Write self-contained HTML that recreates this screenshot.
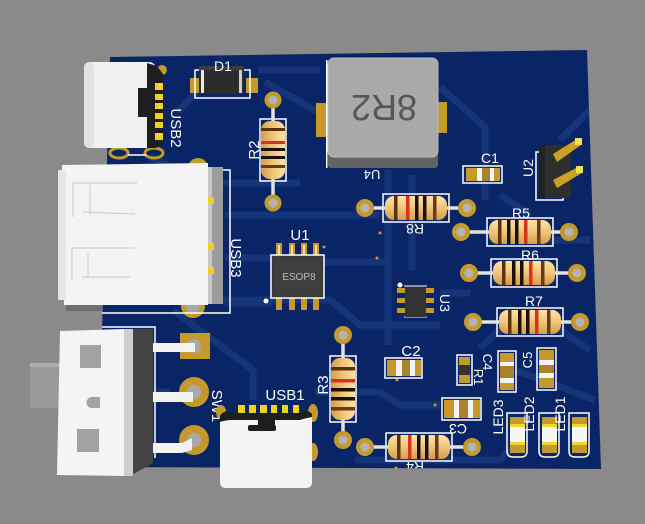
<!DOCTYPE html>
<html><head><meta charset="utf-8">
<style>
html,body{margin:0;padding:0;background:#8a8a8a;}
svg{display:block;}
text{font-family:"Liberation Sans",sans-serif;fill:#fff;}
</style></head>
<body>
<svg width="645" height="524" viewBox="0 0 645 524" xmlns="http://www.w3.org/2000/svg">
<defs>
<linearGradient id="rb" x1="0" y1="0" x2="0" y2="1">
<stop offset="0" stop-color="#fbe3a8"/><stop offset="0.45" stop-color="#f3c87c"/><stop offset="1" stop-color="#d59d4e"/>
</linearGradient>
<clipPath id="bc"><polygon points="110,57 587,50 601,469 98,467"/></clipPath>
</defs>
<rect width="645" height="524" fill="#8a8a8a"/>
<!-- board -->
<polygon points="110,57 587,50 601,469 98,467" fill="#0a2566"/>
<!-- traces -->
<g stroke="#15347a" stroke-width="7" fill="none" stroke-linejoin="round" clip-path="url(#bc)">
<polyline points="178,112 205,82"/>
<polyline points="258,70 320,70"/>
<polyline points="265,82 318,112"/>
<polyline points="440,87 485,127 485,200"/>
<polyline points="150,157 205,183 300,183"/>
<polyline points="225,215 380,215"/>
<polyline points="225,258 272,258"/>
<polyline points="225,303 272,303"/>
<polyline points="388,170 388,345"/>
<polyline points="412,175 412,270"/>
<polyline points="323,262 388,262"/>
<polyline points="173,310 253,370 253,400"/>
<polyline points="210,300 330,300 360,325 440,325"/>
<polyline points="440,293 470,293"/>
<polyline points="315,392 380,392 400,405 440,405"/>
<polyline points="515,370 595,400"/>
<polyline points="480,348 500,330 560,330 590,350"/>
<polyline points="355,460 500,460 520,440"/>
<polyline points="150,392 170,392"/>
<polyline points="510,240 590,240"/>
<polyline points="500,195 530,215"/>
<polyline points="590,110 560,140"/>
</g>
<!-- D1 -->
<rect x="190" y="78" width="12" height="15" fill="#c49a2c"/>
<rect x="246" y="78" width="12" height="15" fill="#c49a2c"/>
<rect x="195" y="70" width="55" height="28" fill="none" stroke="#fff" stroke-width="1.5"/>
<rect x="199" y="66" width="45" height="28" fill="#2c2c2c"/>
<rect x="199" y="66" width="45" height="4" fill="#3d3d3d"/>
<rect x="201" y="70" width="3" height="23" fill="#e8e8e8"/>
<rect x="239" y="70" width="3" height="23" fill="#cfcfcf"/>
<text x="223" y="71" font-size="14" text-anchor="middle">D1</text>
<!-- U4 inductor -->
<rect x="316" y="103" width="14" height="34" fill="#c49a2c"/>
<rect x="436" y="102" width="11" height="31" fill="#c49a2c"/>
<rect x="326" y="60" width="1.5" height="108" fill="#fff"/>
<rect x="328" y="152" width="110" height="16" rx="3" fill="#636363"/>
<rect x="328" y="58" width="110" height="99" rx="6" fill="#a9a9a9"/>
<rect x="328" y="58" width="110" height="99" rx="6" fill="none" stroke="#bdbdbd" stroke-width="1"/>
<text x="0" y="0" font-size="36" fill="#565656" text-anchor="middle" transform="translate(384,95) rotate(180)" style="fill:#565656">8R2</text>
<text x="0" y="0" font-size="13" text-anchor="middle" transform="translate(372,170) rotate(180)">U4</text>
<!-- C1 -->
<rect x="463" y="166" width="39" height="17" fill="none" stroke="#fff" stroke-width="1.5"/>
<rect x="466" y="168" width="11" height="13" fill="#c49a2c"/>
<rect x="477" y="168" width="5" height="13" fill="#f4f4f4"/>
<rect x="482" y="168" width="8" height="13" fill="#a8822f"/>
<rect x="490" y="168" width="4" height="13" fill="#f4f4f4"/>
<rect x="494" y="168" width="6" height="13" fill="#c49a2c"/>
<text x="490" y="163" font-size="14" text-anchor="middle">C1</text>
<!-- U2 header -->
<rect x="536" y="152" width="27" height="48" fill="none" stroke="#fff" stroke-width="1.5"/>
<rect x="539" y="145" width="32" height="53" fill="#2e2e2e"/>
<rect x="539" y="145" width="6" height="53" fill="#222"/>
<polygon points="553,154 577,139 581,145 557,162" fill="#c9a227"/>
<polygon points="553,180 578,167 582,173 557,188" fill="#c9a227"/>
<rect x="575" y="138" width="7" height="7" fill="#f2e14a"/>
<rect x="576" y="166" width="7" height="7" fill="#f2e14a"/>
<text x="0" y="0" font-size="14" text-anchor="middle" transform="translate(533,168) rotate(-90)">U2</text>

<!-- R8 -->
<g transform="translate(416,208)">
<rect x="-33" y="-14" width="66" height="28" fill="none" stroke="#fff" stroke-width="1.5"/>
<line x1="-51" y1="0" x2="51" y2="0" stroke="#e4e4e4" stroke-width="3.5"/>
<circle cx="-51" cy="0" r="9" fill="#c49a2c"/><circle cx="-51" cy="0" r="4.5" fill="#b3b3b3"/>
<circle cx="51" cy="0" r="9" fill="#c49a2c"/><circle cx="51" cy="0" r="4.5" fill="#b3b3b3"/>
<rect x="-31" y="-12" width="62" height="24" rx="9" fill="url(#rb)"/>
<rect x="-22" y="-12" width="3.5" height="24" fill="#5a3212"/>
<rect x="-10" y="-12" width="3.5" height="24" fill="#d8321c"/>
<rect x="-1" y="-12" width="3.5" height="24" fill="#1a1008"/>
<rect x="7" y="-12" width="3.5" height="24" fill="#1a1008"/>
<rect x="17" y="-12" width="3.5" height="24" fill="#6a3a14"/>
</g>
<text x="0" y="0" font-size="14" text-anchor="middle" transform="translate(415,224) rotate(180)">R8</text>
<!-- R5 -->
<g transform="translate(520,232)">
<rect x="-33" y="-14" width="66" height="28" fill="none" stroke="#fff" stroke-width="1.5"/>
<line x1="-54" y1="0" x2="49" y2="0" stroke="#e4e4e4" stroke-width="3.5"/>
<circle cx="-59" cy="0" r="9" fill="#c49a2c"/><circle cx="-59" cy="0" r="4.5" fill="#b3b3b3"/>
<circle cx="49" cy="0" r="9" fill="#c49a2c"/><circle cx="49" cy="0" r="4.5" fill="#b3b3b3"/>
<rect x="-31" y="-12" width="62" height="24" rx="9" fill="url(#rb)"/>
<rect x="-22" y="-12" width="3.5" height="24" fill="#5a3212"/>
<rect x="-13" y="-12" width="3.5" height="24" fill="#1a1008"/>
<rect x="-5" y="-12" width="3.5" height="24" fill="#1a1008"/>
<rect x="4" y="-12" width="3.5" height="24" fill="#d8321c"/>
<rect x="17" y="-12" width="3.5" height="24" fill="#6a3a14"/>
</g>
<text x="521" y="218" font-size="14" text-anchor="middle">R5</text>
<!-- R6 -->
<g transform="translate(524,273)">
<rect x="-33" y="-14" width="66" height="28" fill="none" stroke="#fff" stroke-width="1.5"/>
<line x1="-55" y1="0" x2="53" y2="0" stroke="#e4e4e4" stroke-width="3.5"/>
<circle cx="-55" cy="0" r="9" fill="#c49a2c"/><circle cx="-55" cy="0" r="4.5" fill="#b3b3b3"/>
<circle cx="53" cy="0" r="9" fill="#c49a2c"/><circle cx="53" cy="0" r="4.5" fill="#b3b3b3"/>
<rect x="-31" y="-12" width="62" height="24" rx="9" fill="url(#rb)"/>
<rect x="-22" y="-12" width="3.5" height="24" fill="#5a3212"/>
<rect x="-12" y="-12" width="3.5" height="24" fill="#1a1008"/>
<rect x="-4" y="-12" width="3.5" height="24" fill="#1a1008"/>
<rect x="5" y="-12" width="3.5" height="24" fill="#d8321c"/>
<rect x="17" y="-12" width="3.5" height="24" fill="#6a3a14"/>
</g>
<text x="530" y="260" font-size="14" text-anchor="middle">R6</text>
<!-- R7 -->
<g transform="translate(530,322)">
<rect x="-33" y="-14" width="66" height="28" fill="none" stroke="#fff" stroke-width="1.5"/>
<line x1="-57" y1="0" x2="50" y2="0" stroke="#e4e4e4" stroke-width="3.5"/>
<circle cx="-57" cy="0" r="9" fill="#c49a2c"/><circle cx="-57" cy="0" r="4.5" fill="#b3b3b3"/>
<circle cx="50" cy="0" r="9" fill="#c49a2c"/><circle cx="50" cy="0" r="4.5" fill="#b3b3b3"/>
<rect x="-31" y="-12" width="62" height="24" rx="9" fill="url(#rb)"/>
<rect x="-22" y="-12" width="3.5" height="24" fill="#5a3212"/>
<rect x="-12" y="-12" width="3.5" height="24" fill="#1a1008"/>
<rect x="-4" y="-12" width="3.5" height="24" fill="#1a1008"/>
<rect x="5" y="-12" width="3.5" height="24" fill="#d8321c"/>
<rect x="17" y="-12" width="3.5" height="24" fill="#6a3a14"/>
</g>
<text x="534" y="306" font-size="14" text-anchor="middle">R7</text>
<!-- R4 -->
<g transform="translate(419,447)">
<rect x="-33" y="-14" width="66" height="28" fill="none" stroke="#fff" stroke-width="1.5"/>
<line x1="-54" y1="0" x2="53" y2="0" stroke="#e4e4e4" stroke-width="3.5"/>
<circle cx="-54" cy="0" r="9" fill="#c49a2c"/><circle cx="-54" cy="0" r="4.5" fill="#b3b3b3"/>
<circle cx="53" cy="0" r="9" fill="#c49a2c"/><circle cx="53" cy="0" r="4.5" fill="#b3b3b3"/>
<rect x="-31" y="-12" width="62" height="24" rx="9" fill="url(#rb)"/>
<rect x="-22" y="-12" width="3.5" height="24" fill="#5a3212"/>
<rect x="-11" y="-12" width="3.5" height="24" fill="#d8321c"/>
<rect x="-2" y="-12" width="3.5" height="24" fill="#1a1008"/>
<rect x="6" y="-12" width="3.5" height="24" fill="#1a1008"/>
<rect x="16" y="-12" width="3.5" height="24" fill="#6a3a14"/>
</g>
<g clip-path="url(#bc)"><text x="0" y="0" font-size="14" text-anchor="middle" transform="translate(415,462) rotate(180)">R4</text></g>
<!-- R2 vertical -->
<g transform="translate(273,150) rotate(90)">
<rect x="-31" y="-13" width="62" height="26" fill="none" stroke="#fff" stroke-width="1.5"/>
<line x1="-50" y1="0" x2="53" y2="0" stroke="#e4e4e4" stroke-width="3.5"/>
<circle cx="-50" cy="0" r="8.5" fill="#c49a2c"/><circle cx="-50" cy="0" r="4.5" fill="#b3b3b3"/>
<circle cx="53" cy="0" r="8.5" fill="#c49a2c"/><circle cx="53" cy="0" r="4.5" fill="#b3b3b3"/>
<rect x="-29" y="-12" width="58" height="24" rx="9" fill="url(#rb)"/>
<rect x="-22" y="-12" width="3" height="24" fill="#5a3212"/>
<rect x="-9" y="-12" width="3" height="24" fill="#d8321c"/>
<rect x="-2" y="-12" width="3" height="24" fill="#1a1008"/>
<rect x="6" y="-12" width="3" height="24" fill="#1a1008"/>
<rect x="15" y="-12" width="3" height="24" fill="#6a3a14"/>
</g>
<text x="0" y="0" font-size="15" text-anchor="middle" transform="translate(259,150) rotate(-90)">R2</text>
<!-- R3 vertical -->
<g transform="translate(343,389) rotate(90)">
<rect x="-33" y="-13" width="66" height="26" fill="none" stroke="#fff" stroke-width="1.5"/>
<line x1="-54" y1="0" x2="51" y2="0" stroke="#e4e4e4" stroke-width="3.5"/>
<circle cx="-54" cy="0" r="9" fill="#c49a2c"/><circle cx="-54" cy="0" r="4.5" fill="#b3b3b3"/>
<circle cx="51" cy="0" r="9" fill="#c49a2c"/><circle cx="51" cy="0" r="4.5" fill="#b3b3b3"/>
<rect x="-31" y="-12" width="62" height="24" rx="9" fill="url(#rb)"/>
<rect x="-22" y="-12" width="3.5" height="24" fill="#5a3212"/>
<rect x="-10" y="-12" width="3.5" height="24" fill="#d8321c"/>
<rect x="-1" y="-12" width="3.5" height="24" fill="#1a1008"/>
<rect x="8" y="-12" width="3.5" height="24" fill="#1a1008"/>
<rect x="18" y="-12" width="3.5" height="24" fill="#6a3a14"/>
</g>
<text x="0" y="0" font-size="15" text-anchor="middle" transform="translate(328,385) rotate(-90)">R3</text>

<!-- U1 ESOP8 -->
<g fill="#c49a2c">
<rect x="276" y="243" width="6" height="14"/><rect x="289" y="243" width="6" height="14"/><rect x="301" y="243" width="6" height="14"/><rect x="313" y="243" width="6" height="14"/>
<rect x="276" y="296" width="6" height="14"/><rect x="289" y="296" width="6" height="14"/><rect x="301" y="296" width="6" height="14"/><rect x="313" y="296" width="6" height="14"/>
</g>
<g fill="#efe0a0">
<rect x="278" y="245" width="2" height="10"/><rect x="291" y="245" width="2" height="10"/><rect x="303" y="245" width="2" height="10"/><rect x="315" y="245" width="2" height="10"/>
</g>
<rect x="271" y="255" width="53" height="43" fill="#3a3a3a" stroke="#fff" stroke-width="1.5"/>
<rect x="274" y="258" width="47" height="37" fill="#3e3e3e"/>
<circle cx="266" cy="301" r="2.5" fill="#fff"/>
<text x="299" y="280" font-size="10" text-anchor="middle" style="fill:#bdbdbd">ESOP8</text>
<text x="300" y="240" font-size="15" text-anchor="middle">U1</text>
<!-- U3 -->
<g fill="#c49a2c">
<rect x="397" y="288" width="8" height="5"/><rect x="397" y="298" width="8" height="5"/><rect x="397" y="308" width="8" height="5"/>
<rect x="426" y="288" width="8" height="5"/><rect x="426" y="298" width="8" height="5"/><rect x="426" y="308" width="8" height="5"/>
</g>
<line x1="404" y1="286" x2="427" y2="286" stroke="#fff" stroke-width="1"/>
<line x1="404" y1="317" x2="427" y2="317" stroke="#fff" stroke-width="1"/>
<rect x="405" y="287" width="21" height="30" fill="#333"/>
<circle cx="400" cy="285" r="2.5" fill="#fff"/>
<text x="0" y="0" font-size="14" text-anchor="middle" transform="translate(440,303) rotate(90)">U3</text>
<!-- C2 -->
<rect x="385" y="358" width="37" height="20" fill="none" stroke="#fff" stroke-width="1.5"/>
<rect x="387" y="360" width="9" height="16" fill="#c49a2c"/>
<rect x="396" y="360" width="6" height="16" fill="#f4f4f4"/>
<rect x="402" y="360" width="8" height="16" fill="#a8822f"/>
<rect x="410" y="360" width="5" height="16" fill="#f4f4f4"/>
<rect x="415" y="360" width="6" height="16" fill="#c49a2c"/>
<text x="411" y="356" font-size="15" text-anchor="middle">C2</text>
<!-- C3 -->
<rect x="442" y="398" width="39" height="22" fill="none" stroke="#fff" stroke-width="1.5"/>
<rect x="444" y="400" width="10" height="18" fill="#c49a2c"/>
<rect x="454" y="400" width="5" height="18" fill="#f4f4f4"/>
<rect x="459" y="400" width="9" height="18" fill="#a8822f"/>
<rect x="468" y="400" width="5" height="18" fill="#f4f4f4"/>
<rect x="473" y="400" width="7" height="18" fill="#c49a2c"/>
<text x="0" y="0" font-size="14" text-anchor="middle" transform="translate(458,424) rotate(180)">C3</text>
<!-- R1 -->
<rect x="457" y="355" width="15" height="30" fill="none" stroke="#fff" stroke-width="1.5"/>
<rect x="459" y="357" width="11" height="8" fill="#c49a2c"/>
<rect x="459" y="365" width="11" height="10" fill="#333"/>
<rect x="459" y="375" width="11" height="8" fill="#c49a2c"/>
<text x="0" y="0" font-size="13" text-anchor="middle" transform="translate(474,377) rotate(90)">R1</text>
<!-- C4 -->
<rect x="498" y="351" width="18" height="41" fill="none" stroke="#fff" stroke-width="1.5"/>
<rect x="500" y="353" width="14" height="9" fill="#c49a2c"/>
<rect x="500" y="362" width="14" height="4" fill="#f4f4f4"/>
<rect x="500" y="366" width="14" height="12" fill="#a8822f"/>
<rect x="500" y="378" width="14" height="5" fill="#f4f4f4"/>
<rect x="500" y="383" width="14" height="7" fill="#c49a2c"/>
<text x="0" y="0" font-size="13" text-anchor="middle" transform="translate(483,362) rotate(90)">C4</text>
<!-- C5 -->
<rect x="537" y="348" width="19" height="42" fill="none" stroke="#fff" stroke-width="1.5"/>
<rect x="539" y="350" width="15" height="10" fill="#c49a2c"/>
<rect x="539" y="360" width="15" height="5" fill="#f4f4f4"/>
<rect x="539" y="365" width="15" height="8" fill="#a8822f"/>
<rect x="539" y="373" width="15" height="5" fill="#f4f4f4"/>
<rect x="539" y="378" width="15" height="10" fill="#c49a2c"/>
<text x="0" y="0" font-size="13" text-anchor="middle" transform="translate(532,360) rotate(-90)">C5</text>
<!-- LEDs -->
<g>
<path d="M507,413 H527 V451 Q527,457 521,457 H513 Q507,457 507,451 Z" fill="none" stroke="#fff" stroke-width="1.5"/>
<rect x="510" y="417" width="15" height="10" fill="#c49a2c"/><rect x="510" y="424" width="15" height="3" fill="#f2d82a"/>
<rect x="510" y="427" width="15" height="15" fill="#f6f6f6"/>
<rect x="510" y="442" width="15" height="3" fill="#f2d82a"/><rect x="510" y="445" width="15" height="8" fill="#c49a2c"/>
</g>
<g>
<path d="M539,413 H559 V451 Q559,457 553,457 H545 Q539,457 539,451 Z" fill="none" stroke="#fff" stroke-width="1.5"/>
<rect x="542" y="417" width="15" height="10" fill="#c49a2c"/><rect x="542" y="424" width="15" height="3" fill="#f2d82a"/>
<rect x="542" y="427" width="15" height="15" fill="#f6f6f6"/>
<rect x="542" y="442" width="15" height="3" fill="#f2d82a"/><rect x="542" y="445" width="15" height="8" fill="#c49a2c"/>
</g>
<g>
<path d="M569,413 H589 V451 Q589,457 583,457 H575 Q569,457 569,451 Z" fill="none" stroke="#fff" stroke-width="1.5"/>
<rect x="572" y="417" width="15" height="10" fill="#c49a2c"/><rect x="572" y="424" width="15" height="3" fill="#f2d82a"/>
<rect x="572" y="427" width="15" height="15" fill="#f6f6f6"/>
<rect x="572" y="442" width="15" height="3" fill="#f2d82a"/><rect x="572" y="445" width="15" height="8" fill="#c49a2c"/>
</g>
<text x="0" y="0" font-size="14" text-anchor="middle" transform="translate(503,417) rotate(-90)">LED3</text>
<text x="0" y="0" font-size="14" text-anchor="middle" transform="translate(534,414) rotate(-90)">LED2</text>
<text x="0" y="0" font-size="14" text-anchor="middle" transform="translate(565,414) rotate(-90)">LED1</text>

<!-- USB2 -->
<ellipse cx="119" cy="153" rx="9" ry="5" fill="none" stroke="#c49a2c" stroke-width="3"/>
<ellipse cx="154" cy="153" rx="9" ry="5" fill="none" stroke="#c49a2c" stroke-width="3"/>
<line x1="128" y1="155" x2="146" y2="155" stroke="#fff" stroke-width="1.5"/>
<circle cx="162" cy="70" r="5" fill="#c49a2c"/>
<rect x="84" y="62" width="72" height="86" rx="7" fill="#f1f1f1"/>
<rect x="84" y="62" width="10" height="86" rx="5" fill="#e2e2e2"/>
<polygon points="147,63 157,66 163,74 163,144 156,148 147,148" fill="#1e1e1e"/>
<rect x="138" y="88" width="10" height="29" fill="#1e1e1e"/>
<g fill="#f0d21e">
<rect x="155" y="83" width="8" height="7"/><rect x="155" y="94" width="8" height="6"/><rect x="155" y="103" width="8" height="6"/><rect x="155" y="113" width="8" height="6"/><rect x="155" y="122" width="8" height="6"/><rect x="155" y="133" width="8" height="7"/>
</g>
<text x="0" y="0" font-size="15" text-anchor="middle" transform="translate(171,128) rotate(90)">USB2</text>

<!-- USB3 -->
<circle cx="198" cy="168" r="10" fill="#c49a2c"/>
<circle cx="193" cy="306" r="12" fill="#c49a2c"/><circle cx="193" cy="306" r="7" fill="#a8a8a8"/>
<polyline points="212,170 230,170 230,313 102,313" fill="none" stroke="#fff" stroke-width="1.5"/>
<rect x="66" y="303" width="36" height="8" fill="#707070"/>
<rect x="206" y="167" width="17" height="137" fill="#9c9c9c"/>
<rect x="206" y="167" width="6" height="137" fill="#c8c8c8"/>
<polygon points="62,165 208,163 208,305 64,305" fill="#f4f4f4"/>
<rect x="58" y="170" width="8" height="130" fill="#e6e6e6"/>
<g fill="none" stroke="#cfcfcf" stroke-width="1.2">
<polyline points="137,183 73,183 73,217"/>
<polyline points="135,248 72,248 72,280"/>
<line x1="90" y1="185" x2="90" y2="215"/>
<line x1="88" y1="253" x2="88" y2="278"/>
<line x1="83" y1="212" x2="135" y2="214"/>
<line x1="82" y1="277" x2="130" y2="277"/>
</g>
<rect x="208" y="197" width="6" height="7" fill="#f0d21e"/>
<rect x="208" y="243" width="6" height="7" fill="#f0d21e"/>
<rect x="208" y="267" width="6" height="7" fill="#f0d21e"/>
<text x="0" y="0" font-size="15" text-anchor="middle" transform="translate(231,258) rotate(90)">USB3</text>

<!-- Switch SW1 -->
<polyline points="102,327 155,327 155,458" fill="none" stroke="#fff" stroke-width="1.5"/>
<rect x="180" y="333" width="30" height="26" fill="#c49a2c"/>
<circle cx="194" cy="392" r="15" fill="#c49a2c"/>
<circle cx="194" cy="440" r="15" fill="#c49a2c"/>
<circle cx="194" cy="346" r="7" fill="#a8a8a8"/>
<circle cx="194" cy="392" r="7" fill="#a8a8a8"/>
<circle cx="194" cy="440" r="7" fill="#a8a8a8"/>
<rect x="140" y="343" width="55" height="9" fill="#f2f2f2"/>
<rect x="139" y="392" width="54" height="10" fill="#f2f2f2"/>
<polygon points="138,443 182,443 192,438 192,450 182,453 138,453" fill="#f2f2f2"/>
<rect x="30" y="363" width="32" height="45" fill="#9a9a9a"/>
<rect x="30" y="363" width="32" height="4" fill="#b0b0b0"/>
<polygon points="126,329 153,329 153,463 130,476 126,476" fill="#444"/>
<rect x="122" y="329" width="11" height="147" fill="#cfcfcf"/>
<polygon points="60,331 124,329 124,476 57,475" fill="#f4f4f4"/>
<rect x="80" y="345" width="21" height="23" fill="#a2a2a2"/>
<rect x="77" y="429" width="22" height="23" fill="#a2a2a2"/>
<path d="M100,397 H92 A5,5 0 0 0 92,408 H100 Z" fill="#a2a2a2"/>
<text x="0" y="0" font-size="15" text-anchor="middle" transform="translate(212,406) rotate(90)">SW1</text>

<!-- USB1 -->
<ellipse cx="313" cy="413" rx="5" ry="9" fill="#c49a2c"/>
<ellipse cx="313" cy="452" rx="5" ry="9" fill="#c49a2c"/>
<ellipse cx="221" cy="412" rx="5" ry="7" fill="#c49a2c"/>
<g fill="#f0d21e">
<rect x="238" y="405" width="7" height="12"/><rect x="249" y="405" width="7" height="12"/><rect x="260" y="405" width="7" height="12"/><rect x="271" y="405" width="6" height="12"/><rect x="282" y="405" width="6" height="12"/><rect x="293" y="405" width="6" height="12"/>
</g>
<path d="M220,418 Q224,411 232,414 H300 Q308,411 312,416 V482 Q312,488 306,488 H226 Q220,488 220,482 Z" fill="#f3f3f3"/>
<path d="M220,416 Q224,409 232,413 H300 Q308,409 312,414 L312,417 Q306,418 300,420 H232 Q226,420 220,422 Z" fill="#1e1e1e"/>
<rect x="258" y="418" width="17" height="8" fill="#1e1e1e"/>
<rect x="248" y="425" width="28" height="6" rx="2" fill="#1e1e1e"/>
<text x="285" y="400" font-size="15" text-anchor="middle">USB1</text>

<!-- vias -->
<g fill="#c49a2c">
<circle cx="380" cy="233" r="1.5"/><circle cx="377" cy="258" r="1.5"/><circle cx="324" cy="247" r="1.5"/>
<circle cx="396" cy="468" r="1.5"/><circle cx="435" cy="405" r="1.5"/><circle cx="397" cy="380" r="1.5"/>
</g>
</svg>
</body></html>
